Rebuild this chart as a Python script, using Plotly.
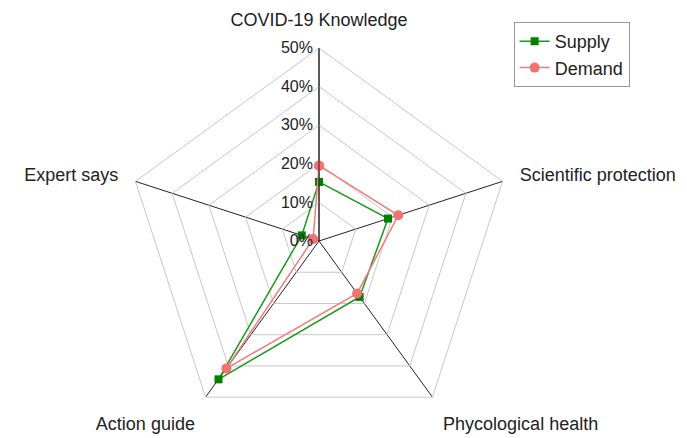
import plotly.graph_objects as go

categories = ["COVID-19 Knowledge", "Scientific protection", "Phycological health", "Action guide", "Expert says"]
supply = [15.3, 18.8, 17.9, 44.3, 4.7]
demand = [19.5, 21.6, 16.8, 40.8, 1.6]
radial_ticks = [0, 10, 20, 30, 40, 50]

fig = go.Figure()
fig.add_trace(go.Scatterpolar(
    r=supply + supply[:1], theta=categories + categories[:1], name="Supply",
    mode="lines+markers", line=dict(color="#1a9a1a", width=1.5),
    marker=dict(symbol="square", size=8, color="#008000")))
fig.add_trace(go.Scatterpolar(
    r=demand + demand[:1], theta=categories + categories[:1], name="Demand",
    mode="lines+markers", line=dict(color="#f47c7c", width=1.5),
    marker=dict(symbol="circle", size=10, color="#f47171")))

fig.update_layout(
    width=687, height=438,
    margin=dict(l=118, r=183, t=40, b=12),
    paper_bgcolor="white",
    font=dict(family="Liberation Sans, Arial, sans-serif", size=18, color="#222"),
    polar=dict(
        bgcolor="white",
        gridshape="linear",
        radialaxis=dict(range=[0, 50], tickvals=radial_ticks, ticktext=[f"{v}%" for v in radial_ticks],
                        angle=90, tickangle=90, side="counterclockwise",
                        showline=True, linecolor="#222", linewidth=1,
                        gridcolor="#c8c8c8", gridwidth=1, ticks="",
                        tickfont=dict(size=16, color="#222")),
        angularaxis=dict(rotation=90, direction="clockwise",
                         showline=True, linecolor="#c8c8c8", linewidth=1,
                         gridcolor="#222", gridwidth=1,
                         ticks="outside", ticklen=14, tickcolor="rgba(0,0,0,0)",
                         tickfont=dict(size=18, color="#222")),
    ),
    legend=dict(xref="container", yref="container", x=0.736, y=0.968, xanchor="left", yanchor="top",
                bordercolor="#999", borderwidth=1, bgcolor="white",
                font=dict(size=18), tracegroupgap=0),
)

fig.write_html("out.html")
